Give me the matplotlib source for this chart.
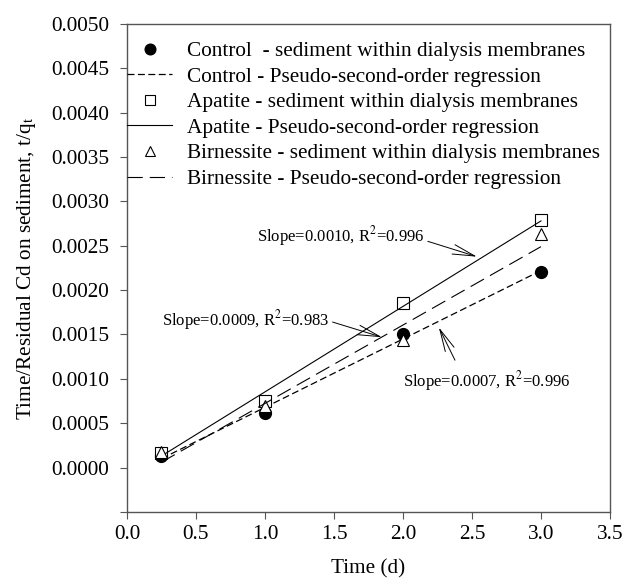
import matplotlib
matplotlib.use("Agg")
import matplotlib.pyplot as plt
import numpy as np

plt.rcParams['font.family'] = ['Liberation Serif', 'DejaVu Serif']
plt.rcParams['mathtext.fontset'] = 'stix'
plt.rcParams['lines.scale_dashes'] = False

# data
time = [0.25, 1.0, 2.0, 3.0]
control = [0.000135, 0.000617, 0.00151, 0.002205]
apatite = [0.000168, 0.00075, 0.00185, 0.002795]
birnessite = [0.00018, 0.000695, 0.001438, 0.002635]

# regression lines (endpoints at t=0.25 and t=3.0)
fit_t = [0.25, 3.0]
control_fit = [0.00010, 0.00222]
apatite_fit = [0.00013, 0.00278]
birnessite_fit = [0.00006, 0.00249]

labels = ["Control  - sediment within dialysis membranes",
          "Control - Pseudo-second-order regression",
          "Apatite - sediment within dialysis membranes",
          "Apatite - Pseudo-second-order regression",
          "Birnessite - sediment within dialysis membranes",
          "Birnessite - Pseudo-second-order regression"]

annot_texts = [r"Slope=0.0010, R$^2$=0.996",
               r"Slope=0.0009, R$^2$=0.983",
               r"Slope=0.0007, R$^2$=0.996"]

FS = 15.3

fig = plt.figure(figsize=(6.24, 5.83), dpi=100)
ax = fig.add_axes([0.2035, 0.122, 0.774, 0.8368])

spc = '#555555'
l1, = ax.plot(time, control, 'o', color='black', markersize=8.5, linestyle='none')
l2, = ax.plot(fit_t, control_fit, color='black', lw=0.9, dashes=(5, 2.5))
l3, = ax.plot(time, apatite, 's', markerfacecolor='white', markeredgecolor='black',
              markeredgewidth=0.8, markersize=8, linestyle='none')
l4, = ax.plot(fit_t, apatite_fit, color='black', lw=0.8, linestyle='-')
l5, = ax.plot(time, birnessite, '^', markerfacecolor='white', markeredgecolor='black',
              markeredgewidth=0.8, markersize=8.5, linestyle='none')
l6, = ax.plot(fit_t, birnessite_fit, color='black', lw=0.8, dashes=(11, 5))

ax.set_xlim(0, 3.5)
ax.set_ylim(-0.0005, 0.005)
ax.set_xticks(np.arange(0, 3.51, 0.5))
ax.set_xticklabels([f"{v:.1f}" for v in np.arange(0, 3.51, 0.5)])
yt = np.arange(-0.0005, 0.00501, 0.0005)
ax.set_yticks(yt)
ax.set_yticklabels(['' if v < -1e-9 else f"{abs(v):.4f}" for v in yt])
ax.tick_params(direction='out', length=5, width=0.8, colors='black',
               labelsize=FS, color=spc)
ax.tick_params(axis='y', pad=8)
ax.tick_params(axis='x', pad=4.5)
for s in ax.spines.values():
    s.set_color(spc)
    s.set_linewidth(1.0)

ax.set_xlabel("Time (d)", fontsize=FS, labelpad=11)
ax.set_ylabel(r"Time/Residual Cd on sediment, t/q$_\mathrm{t}$", fontsize=15.3, labelpad=9)

leg = ax.legend([l1, l2, l3, l4, l5, l6], labels, loc='upper left', frameon=False,
                fontsize=FS, handlelength=2.1, handletextpad=0.7, labelspacing=0.27,
                borderaxespad=0.0, borderpad=0.0, markerscale=0.9,
                bbox_to_anchor=(0.001, 0.965))

# annotations
ax.text(0.942, 0.00261, annot_texts[0], fontsize=12, ha='left', va='center')
ax.text(0.254, 0.00166, annot_texts[1], fontsize=12, ha='left', va='center')
ax.text(2.0, 0.000975, annot_texts[2], fontsize=12, ha='left', va='center')

aprops = dict(arrowstyle='->,head_length=1.6,head_width=0.35', lw=0.7, color='black',
              shrinkA=0, shrinkB=0, mutation_scale=10)
ax.annotate('', xy=(2.536, 0.002377), xytext=(2.18, 0.00255), arrowprops=aprops)
ax.annotate('', xy=(1.848, 0.001469), xytext=(1.49, 0.00164), arrowprops=aprops)
ax.annotate('', xy=(2.26, 0.00158), xytext=(2.377, 0.00121), arrowprops=aprops)

fig.savefig("out.png", dpi=100)
